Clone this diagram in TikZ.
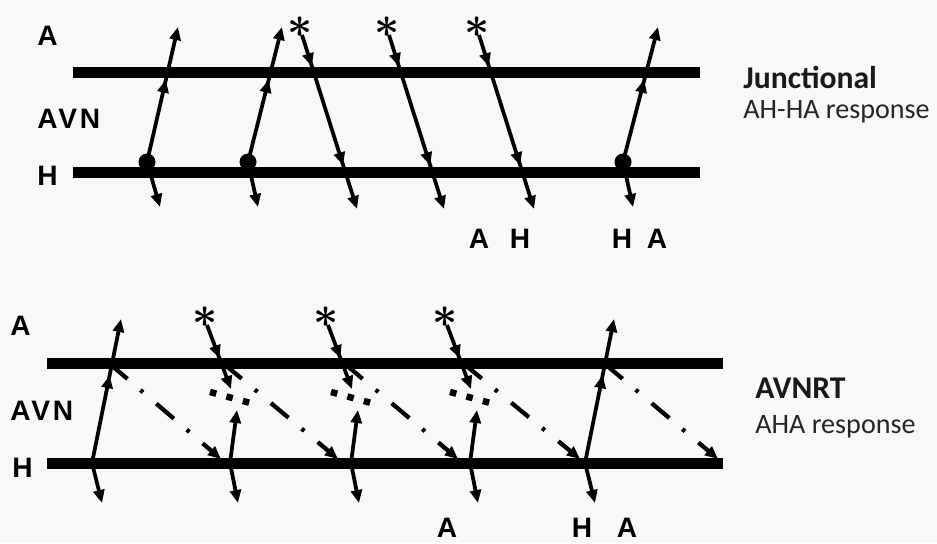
\documentclass[tikz,border=0pt]{standalone}
\usepackage{fontspec}
\setmainfont{Liberation Sans}
\newfontfamily\calfont{Carlito}
\usepackage{tikz}
\usetikzlibrary{arrows.meta}
\usetikzlibrary{decorations.markings}
\definecolor{paper}{RGB}{248,248,248}

\tikzset{
  bar/.style={line width=2.2mm},
  cond/.style={line width=0.75mm, -{Triangle[length=2.6mm,width=2.2mm]}},
  midtip/.style={postaction={decorate, decoration={markings,
      mark=at position #1 with {\arrow{Triangle[length=2.6mm,width=2.2mm]}}}}},
  reentry/.style={line width=0.85mm, dash pattern=on 4.6mm off 3.4mm on 0.7mm off 3.5mm,
      -{Triangle[length=2.6mm,width=2.2mm]}},
  block/.style={line width=1.3mm, dash pattern=on 1.3mm off 2.1mm},
  burst/.style={inner sep=0pt, font=\fontsize{29}{29}\selectfont\boldmath},
  side/.style={inner sep=0pt, anchor=base west, font=\bfseries\fontsize{16}{16}\selectfont},
  tag/.style={inner sep=0pt, anchor=base, font=\bfseries\fontsize{16}{16}\selectfont},
  head/.style={inner sep=0pt, anchor=base west, text=black!90, font=\calfont\bfseries\fontsize{18}{18}\selectfont},
  note/.style={inner sep=0pt, anchor=base west, text=black!85, font=\calfont\fontsize{16}{16}\selectfont}
}

\begin{document}
\begin{tikzpicture}[x=0.2mm, y=-0.2mm]
  \fill[paper] (0,0) rectangle (937,543);
  \useasboundingbox (0,0) rectangle (937,543);

  % junctional: bars
  \coordinate (ja0) at (73,72);  \coordinate (ja1) at (700,72);
  \coordinate (jh0) at (73,172); \coordinate (jh1) at (700,172);
  \draw[bar] (ja0) -- (ja1);
  \draw[bar] (jh0) -- (jh1);

  % junctional beats, conducted both ways from the dot
  \foreach \n/\x/\ux/\lx in {1/147/178/160, 2/248/282/258, 6/623/658/633} {
    \coordinate (jd\n) at (\x,162);
    \coordinate (ju\n) at (\ux,27);
    \coordinate (jl\n) at (\lx,207);
    \fill (jd\n) circle (1.7mm);
    \draw[cond, midtip=0.61] (jd\n) -- (ju\n);
    \draw[cond] (jd\n) -- (jl\n);
  }

  % paced atrial beats
  \foreach \n/\x in {3/300, 4/387, 5/477} {
    \node[burst] (jk\n) at (\x,27) {$\ast$};
    \coordinate (js\n) at (\x+2,35);
    \coordinate (jl\n) at (\x+57,209);
    \draw[cond, midtip=0.18, midtip=0.75] (js\n) -- (jl\n);
  }

  \node[side] (jA) at (37,45) {A};
  \node[side] (jAVN) at (37,128) {\addfontfeature{LetterSpace=10}AVN};
  \node[side] (jH) at (37,185) {H};
  \node[tag] (jt1) at (479,248) {A};
  \node[tag] (jt2) at (520,248) {H};
  \node[tag] (jt3) at (622,248) {H};
  \node[tag] (jt4) at (657,248) {A};
  \node[head] (jhead) at (743,88) {Junctional};
  \node[note] (jnote) at (743,118) {AH-HA response};

  % avnrt: bars
  \coordinate (ra0) at (47,363);  \coordinate (ra1) at (723,363);
  \coordinate (rh0) at (47,463);  \coordinate (rh1) at (723,463);
  \draw[bar] (ra0) -- (ra1);
  \draw[bar] (rh0) -- (rh1);

  % echo beats
  \foreach \n/\bx/\ux/\cx in {1/92/121/110, 5/585/614/605} {
    \coordinate (rb\n) at (\bx,463);
    \coordinate (ru\n) at (\ux,319);
    \coordinate (rl\n) at (\bx+10,503);
    \coordinate (rc\n) at (\cx,364);
    \draw[cond, midtip=0.61] (rb\n) -- (ru\n);
    \draw[cond] (rb\n) -- (rl\n);
  }

  % paced beats meeting the echo
  \foreach \n/\k in {2/0, 3/121, 4/240} {
    \node[burst] (rk\n) at (205+\k,317) {$\ast$};
    \coordinate (rs\n) at (207+\k,325);
    \coordinate (rt\n) at (231+\k,389);
    \draw[cond, midtip=0.52] (rs\n) -- (rt\n);
    \coordinate (rb\n) at (230+\k,463);
    \coordinate (ru\n) at (237+\k,410);
    \coordinate (rl\n) at (238+\k,503);
    \draw[cond] (rb\n) -- (ru\n);
    \draw[cond] (rb\n) -- (rl\n);
    \coordinate (rq\n) at (210+\k,392);
    \coordinate (rr\n) at (254+\k,404);
    \draw[block] (rq\n) -- (rr\n);
    \coordinate (rc\n) at (224+\k,364);
  }

  \coordinate (re2) at (221,459);
  \coordinate (re3) at (338,459);
  \coordinate (re4) at (458,459);
  \coordinate (re5) at (580,459);
  \coordinate (re6) at (718,459);
  \foreach \a/\b in {1/2, 2/3, 3/4, 4/5, 5/6}
    \draw[reentry] (rc\a) -- (re\b);

  \node[side] (rA) at (10,335) {A};
  \node[side] (rAVN) at (10,420) {\addfontfeature{LetterSpace=10}AVN};
  \node[side] (rH) at (12,477) {H};
  \node[tag] (rt1) at (447,537) {A};
  \node[tag] (rt2) at (582,537) {H};
  \node[tag] (rt3) at (627,537) {A};
  \node[head] (rhead) at (755,398) {AVNRT};
  \node[note] (rnote) at (755,433) {AHA response};
\end{tikzpicture}
\end{document}
